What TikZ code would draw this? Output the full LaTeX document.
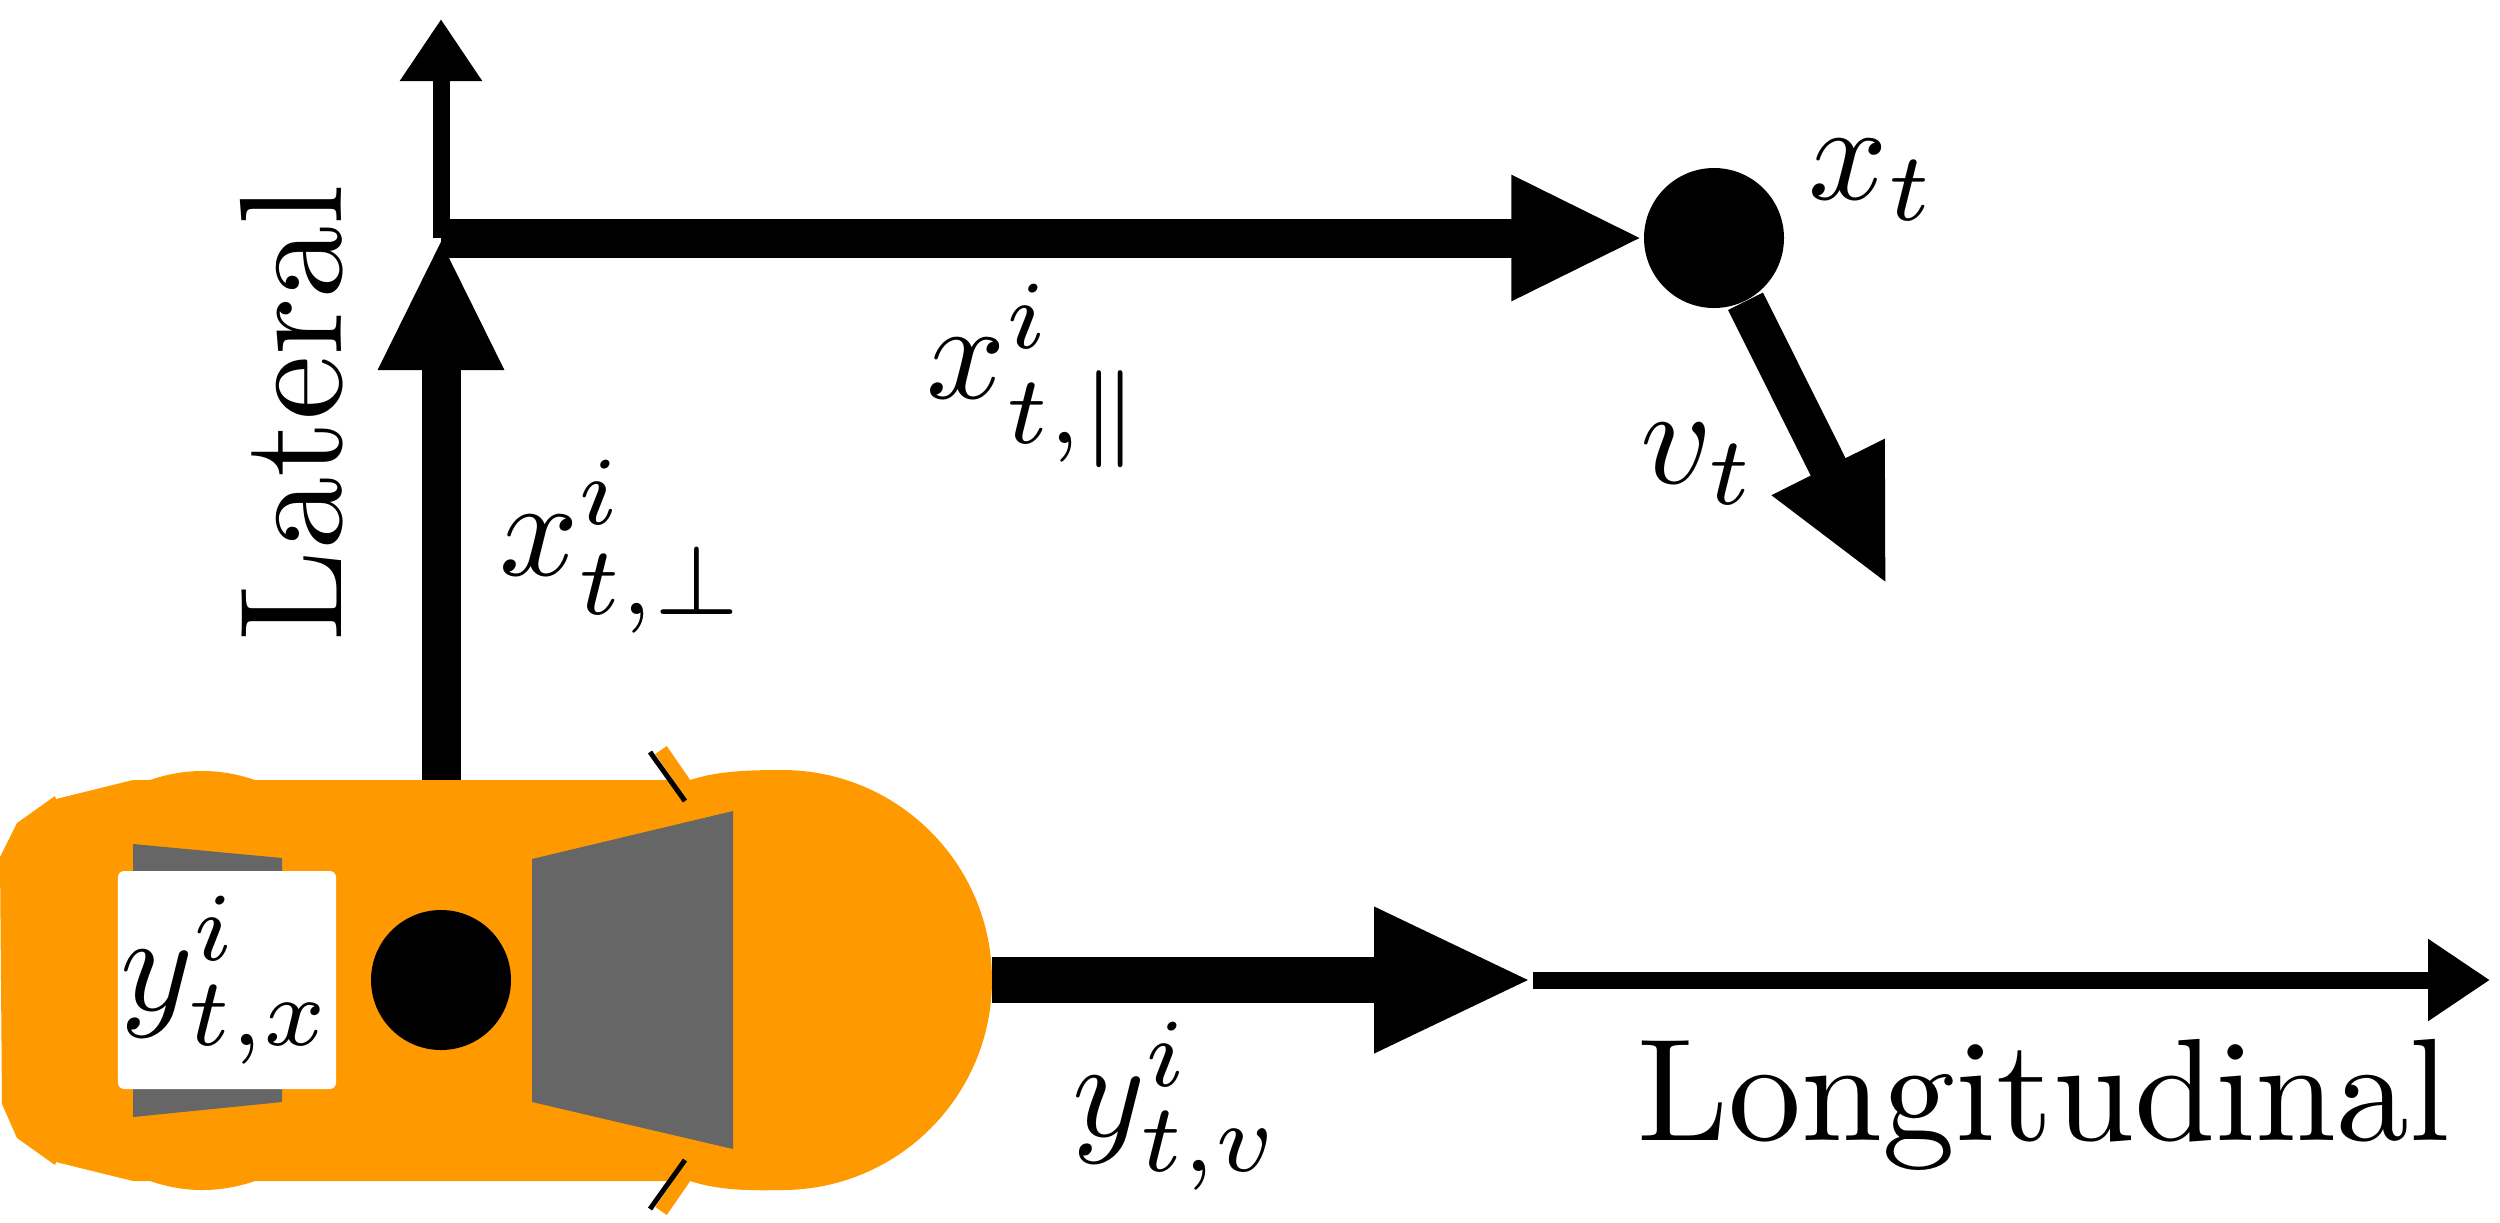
\documentclass[tikz,border=0pt]{standalone}
\usepackage{amsmath}
\usepackage{amssymb}
\usetikzlibrary{arrows.meta}
\definecolor{carorange}{HTML}{FF9900}
\definecolor{wingray}{HTML}{666666}
\tikzset{
  thickarrow/.style={line width=3.9mm,-{Triangle[length=13.2mm,width=11.6mm]}},
  thinarrow/.style={line width=1.7mm,-{Triangle[length=6.2mm,width=7.8mm]}},
  dot/.style={circle,fill=black,inner sep=0,minimum size=14mm},
  lab/.style={scale=3.95,inner sep=0}
}
\begin{document}
\begin{tikzpicture}[x=0.1mm,y=-0.1mm]
\useasboundingbox (0,0) rectangle (2500,1222);

% mirrors
\draw [carorange,line width=1.4mm] (661,750) -- (690,792);
\draw [carorange,line width=1.4mm] (661,1211) -- (690,1169);
% body
\fill [carorange] (0,857) -- (17,823) -- (55,796) -- (56,799) -- (133,780) -- (150,780)
  .. controls (185,768) and (220,768) .. (255,780) -- (690,780)
  .. controls (715,772) and (740,770) .. (782,770) arc (90:-90:210 and -210)
  .. controls (740,1191) and (715,1189) .. (690,1181) -- (255,1181)
  .. controls (220,1193) and (185,1193) .. (150,1181) -- (133,1181) -- (56,1162)
  -- (55,1165) -- (17,1138) -- (2,1104) -- cycle;
\draw [black,line width=0.5mm] (650,752) -- (685,801);
\draw [black,line width=0.5mm] (650,1209) -- (685,1160);
% windows
\fill [wingray] (532,859) -- (733,811) -- (733,1149) -- (532,1102) -- cycle;
\fill [wingray] (133,844) -- (282,858) -- (282,1102) -- (133,1117) -- cycle;

\node [dot] (pivot) at (441,980) {};
\node [dot] (xdot) at (1714,238) {};
\node [lab,fill=white,rounded corners=1.8pt,minimum size=5.52mm] (yx) at (227,980) {$y^i_{t,x}$};

\coordinate (roof) at (441,780);
\coordinate (corner) at (441,238);
\coordinate (lattip) at (441,19);
\coordinate (nose) at (992,980);
\coordinate (ymid) at (1533,980);
\coordinate (lontip) at (2490,980);
\coordinate (vtip) at (1887,585);

\draw [thinarrow] (corner) -- (lattip);
\draw [thickarrow] (roof) -- (corner);
\draw [thickarrow] (corner) -- (xdot.west);
\draw [thickarrow] (xdot) -- (vtip);
\draw [thinarrow] (ymid) -- (lontip);
\draw [line width=4.6mm,-{Triangle[length=15.9mm,width=13.4mm]}] (nose) -- (ymid);

\node [lab] (xt) at (1873,180) {$x_t$};
\node [lab] (xpar) at (1036,376) {$x^i_{t,\parallel}$};
\node [lab] (xperp) at (623,547) {$x^i_{t,\perp}$};
\node [lab] (vt) at (1699,464) {$v_t$};
\node [lab] (yv) at (1177,1106) {$y^i_{t,v}$};
\node [scale=4.15,inner sep=0] (lon) at (2044,1105) {Longitudinal};
\node [scale=4.15,inner sep=0,rotate=90] (lat) at (292,413) {Lateral};
\end{tikzpicture}
\end{document}
